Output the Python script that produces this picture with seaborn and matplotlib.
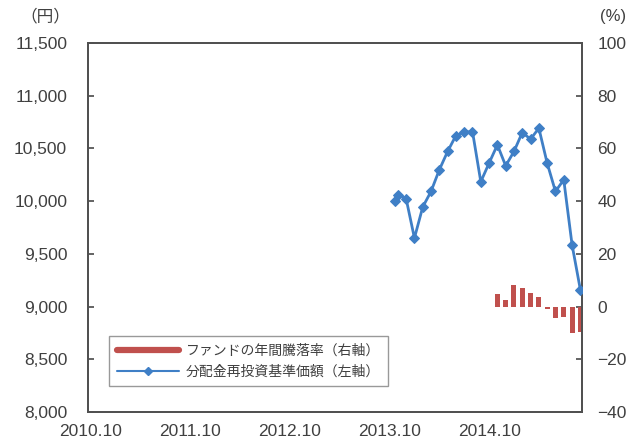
import matplotlib
matplotlib.use("Agg")
import matplotlib.pyplot as plt
import seaborn as sns
import pandas as pd
import numpy as np
from matplotlib.lines import Line2D

sns.set_theme(style="white")
plt.rcParams['font.family'] = ['Liberation Sans', 'Noto Sans CJK JP', 'DejaVu Sans']

# ---- data ----
# x positions are month indices counted from 2010.10 (=0)
nav_month = [36.6, 37, 38, 39, 40, 41, 42, 43, 44, 45, 46, 47, 48, 49, 50, 51, 52,
             53, 54, 55, 56, 57, 58, 59]
nav_value = [10000, 10060, 10023, 9650, 9944, 10092, 10297, 10471, 10622, 10654, 10660,
             10184, 10361, 10534, 10335, 10471, 10651, 10588, 10692, 10361, 10092,
             10203, 9587, 9161]
ret_month = [49, 50, 51, 52, 53, 54, 55, 56, 57, 58, 59]
ret_value = [4.6, 2.5, 8.3, 7.0, 5.2, 3.8, -0.8, -4.5, -3.9, -10.0, -9.5]
xtick_month = [0, 12, 24, 36, 48]
xtick_label = ["2010.10", "2011.10", "2012.10", "2013.10", "2014.10"]
left_ticks = [8000, 8500, 9000, 9500, 10000, 10500, 11000, 11500]
right_ticks = [-40, -20, 0, 20, 40, 60, 80, 100]
legend_ret = "ファンドの年間騰落率（右軸）"
legend_nav = "分配金再投資基準価額（左軸）"

nav_df = pd.DataFrame({"month": nav_month, "value": nav_value})
ret_df = pd.DataFrame({"month": ret_month, "value": ret_value})

BLUE = "#3f7fc6"
RED = "#c0504d"
TXT = "#404040"
SPINE = "#505050"

fig = plt.figure(figsize=(6.35, 4.45), dpi=100)
ax = fig.add_axes([88/635, 1-412/445, (582-88)/635, (412-43)/445])
ax2 = ax.twinx()

# bars on right axis
ax2.bar(ret_df["month"], ret_df["value"], width=0.6, color=RED, linewidth=0, zorder=2)
# line on left axis
sns.lineplot(data=nav_df, x="month", y="value", ax=ax, color=BLUE, lw=2,
             marker="D", markersize=5.5, markeredgecolor=BLUE, zorder=3)

ax.set_zorder(ax2.get_zorder() + 1)
ax.patch.set_visible(False)

ax.set_xlim(-0.35, 59.2)
ax.set_ylim(8000, 11500)
ax2.set_ylim(-40, 100)
ax.set_yticks(left_ticks)
ax.set_yticklabels([f"{v:,}" for v in left_ticks])
ax2.set_yticks(right_ticks)
ax2.set_yticklabels([("−" + str(-v)) if v < 0 else str(v) for v in right_ticks])
ax.set_xticks(xtick_month)
ax.set_xticklabels(xtick_label)
ax.set_xlabel("")
ax.set_ylabel("")

for a in (ax, ax2):
    for s in a.spines.values():
        s.set_color(SPINE)
        s.set_linewidth(1.3)
ax.tick_params(axis="y", direction="in", length=4, color=SPINE, labelsize=12.5,
               labelcolor=TXT, pad=15)
ax2.tick_params(axis="y", direction="in", length=4, color=SPINE, labelsize=12.5,
                labelcolor=TXT, pad=11)
ax.tick_params(axis="x", length=0, labelsize=12.5, labelcolor=TXT, pad=9)
ax.grid(False)
ax2.grid(False)

fig.text(45/635, 1-16/445, "（円）", ha="center", va="center", fontsize=12, color=TXT)
fig.text(613/635, 1-16/445, "(%)", ha="center", va="center", fontsize=12, color=TXT)

handles = [Line2D([], [], color=RED, lw=4.5),
           Line2D([], [], color=BLUE, lw=1.5, marker="D", markersize=4.5)]
leg = ax.legend(handles, [legend_ret, legend_nav], loc="lower left",
                bbox_to_anchor=(14/494, 19/369), fontsize=10, frameon=True,
                fancybox=False, edgecolor="#808080", handlelength=4.5,
                handletextpad=0.5, borderpad=0.55, labelspacing=0.5)
leg.get_frame().set_linewidth(1.0)
for t in leg.get_texts():
    t.set_color(TXT)

fig.savefig("out.png", dpi=100)
